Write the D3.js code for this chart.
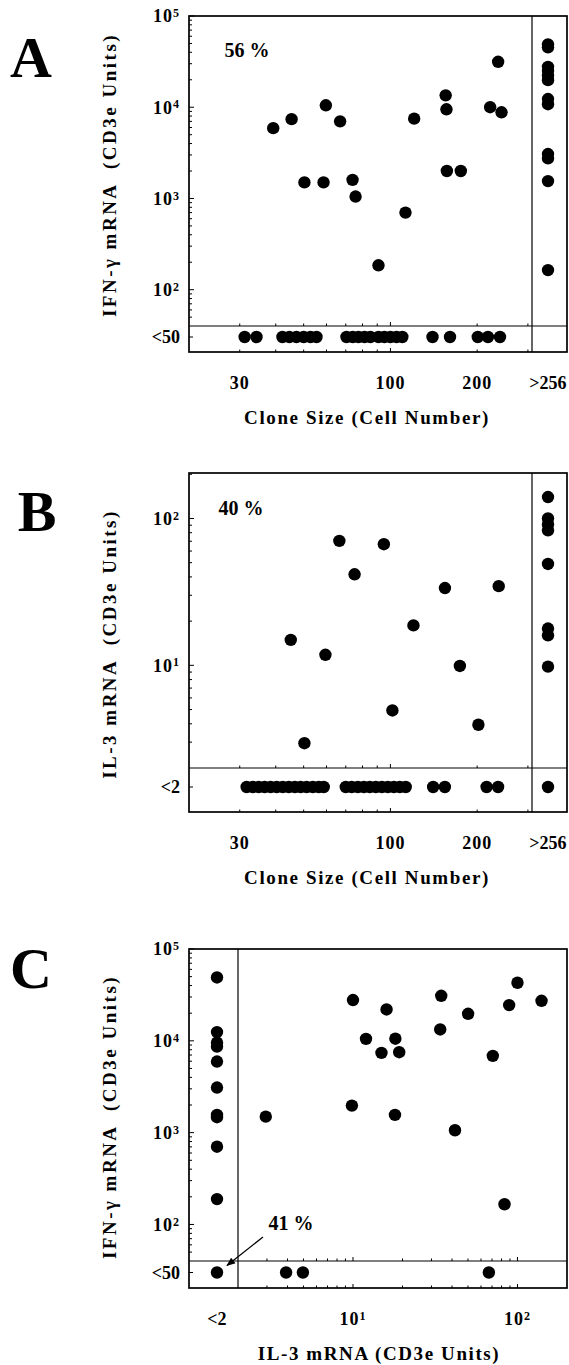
<!DOCTYPE html>
<html>
<head>
<meta charset="utf-8">
<script src="https://cdn.jsdelivr.net/npm/d3@7"></script>
<style>
body { margin: 0; background: #fff; }
text { font-family: "Liberation Serif", "Times New Roman", serif; font-weight: bold; fill: #000; }
</style>
</head>
<body>
<script>
// ---- panel A : IFN-g mRNA vs clone size ----
var aClone = [39.2, 45.4, 59.7, 66.9, 50.3, 58.6, 73.9, 75.7, 120.9, 112.8, 90.9, 155.5, 156.5, 157, 175.5, 236.5, 221.9, 243];
var aIfn   = [5900, 7400, 10500, 7000, 1500, 1500, 1600, 1050, 7500, 700, 185, 13500, 9500, 2000, 2000, 31500, 10000, 8800];
// clones > 256 cells
var aBigIfn = [48900, 45300, 27700, 24900, 22100, 19800, 12300, 10800, 3070, 2750, 1550, 164];
// IFN-g < 50
var aNegClone = [31.2, 34.3, 42.2, 44.6, 47.2, 50, 52.8, 55.4, 70.4, 74, 77.5, 81.3, 85.2, 90.9, 95.3, 100, 105, 110, 140, 161, 201, 218, 240];

// ---- panel B : IL-3 mRNA vs clone size ----
var bClone = [66.5, 94.9, 75.1, 45.1, 59.5, 50.3, 154.6, 237.6, 120.2, 174.2, 101.6, 202];
var bIl3   = [70.4, 66.8, 41.7, 14.9, 11.8, 2.95, 33.6, 34.6, 18.7, 9.9, 4.93, 3.94];
var bBigIl3 = [140, 100, 91, 83, 49, 17.8, 16, 9.8, "<2"];
var bNegClone = [31.7, 33.3, 34.9, 36.6, 38.4, 40.3, 42.3, 44.4, 46.6, 48.8, 51.2, 53.8, 56.4, 58.7,
                 70, 73.4, 77.1, 80.9, 84.8, 89, 93.4, 98, 102.8, 107.8, 113, 140.7, 154.5, 215.7, 236.4];

// ---- panel C : IFN-g vs IL-3 ----
var cIl3 = [10, 16, 12, 18.1, 14.9, 19.1, 34.4, 33.9, 50.1, 100, 89, 140, 70.8, 9.85, 18, 2.95, 41.7, 83.4];
var cIfn = [27800, 21950, 10500, 10550, 7400, 7520, 30950, 13290, 19700, 42900, 24500, 27300, 6860, 1970, 1560, 1494, 1062, 166];
var cNegIl3Ifn = [49000, 12440, 9580, 8670, 5950, 3097, 1560, 1472, 703, 189, "<50"];
var cNegIfnIl3 = [3.92, 4.96, 67];

// tick labels
var cloneTicks = [30, 100, 200];
var ifnTicks = [1e2, 1e3, 1e4, 1e5];
var il3Ticks = [10, 100];

var svg = d3.select("body").append("svg")
  .attr("width", 569)
  .attr("height", 1365);

svg.append("defs").append("marker")
  .attr("id", "head")
  .attr("viewBox", "0 0 10 10")
  .attr("refX", 9).attr("refY", 5)
  .attr("markerWidth", 9).attr("markerHeight", 9)
  .attr("markerUnits", "userSpaceOnUse")
  .attr("orient", "auto")
  .append("path").attr("d", "M0,1L10,5L0,9Z").attr("fill", "#000");

// "10" with a raised exponent
function powLabel(sel, v) {
  sel.append("tspan").text("10");
  sel.append("tspan").attr("dy", "-0.45em").attr("font-size", "12px")
    .text(Math.round(Math.log10(v)));
}

function drawPanel(p) {
  var g = svg.append("g");
  var x = p.x, y = p.y;
  var xr = x.range();

  // frame + break lines
  g.append("rect")
    .attr("x", p.left).attr("y", p.top)
    .attr("width", p.right - p.left).attr("height", p.bottom - p.top)
    .attr("fill", "none").attr("stroke", "#000").attr("stroke-width", 1.7);
  g.append("line").attr("x1", p.left).attr("x2", p.right)
    .attr("y1", p.hsep).attr("y2", p.hsep)
    .attr("stroke", "#000").attr("stroke-width", 1.2);
  g.append("line").attr("x1", p.vsep).attr("x2", p.vsep)
    .attr("y1", p.top).attr("y2", p.bottom)
    .attr("stroke", "#000").attr("stroke-width", 1.2);

  // y ticks on the left edge
  var yt = y.ticks().filter(function (t) { return y(t) >= p.top && y(t) <= p.hsep - 1; });
  g.selectAll(null).data(yt).enter().append("line")
    .attr("x1", p.left)
    .attr("x2", function (t) { return p.left + (ifMajor(t) ? 5 : 3); })
    .attr("y1", function (t) { return y(t); })
    .attr("y2", function (t) { return y(t); })
    .attr("stroke", "#000").attr("stroke-width", 1);
  g.append("line").attr("x1", p.left).attr("x2", p.left + 4)
    .attr("y1", p.stripY).attr("y2", p.stripY)
    .attr("stroke", "#000").attr("stroke-width", 1);

  // x ticks on the bottom edge and on the break line
  var xt = x.ticks().filter(function (t) {
    return x(t) >= Math.min(xr[0], xr[1]) + 1 && x(t) <= Math.max(xr[0], xr[1]) - 1;
  });
  [p.bottom, p.hsep].forEach(function (base) {
    g.selectAll(null).data(xt).enter().append("line")
      .attr("x1", function (t) { return x(t); })
      .attr("x2", function (t) { return x(t); })
      .attr("y1", base)
      .attr("y2", function (t) { return base - (ifMajor(t) ? 4 : 2.5); })
      .attr("stroke", "#000").attr("stroke-width", 1);
  });

  // y tick labels
  p.yLabels.forEach(function (v) {
    var t = g.append("text")
      .attr("x", p.left - 9).attr("y", y(v)).attr("dy", "0.36em")
      .attr("text-anchor", "end").attr("font-size", "18px")
      .attr("letter-spacing", "1px");
    powLabel(t, v);
  });
  g.append("text")
    .attr("x", p.left - 9).attr("y", p.stripY).attr("dy", "0.36em")
    .attr("text-anchor", "end").attr("font-size", "18px")
    .text(p.stripLabel);

  // x tick labels
  var ly = p.bottom + 31;
  p.xLabels.forEach(function (v) {
    var t = g.append("text")
      .attr("x", x(v)).attr("y", ly).attr("dy", "0.36em")
      .attr("text-anchor", "middle").attr("font-size", "18px")
      .attr("letter-spacing", "1px");
    if (p.xPow) powLabel(t, v); else t.text(v);
  });
  g.append("text")
    .attr("x", p.colX).attr("y", ly).attr("dy", "0.36em")
    .attr("text-anchor", "middle").attr("font-size", "18px")
    .text(p.colLabel);

  // axis titles
  g.append("text")
    .attr("transform", "translate(" + p.yTitleX + "," + p.yTitleY + ") rotate(-90)")
    .attr("dy", "0.36em")
    .attr("text-anchor", "middle").attr("font-size", "19px")
    .attr("letter-spacing", "2.5px")
    .style("white-space", "pre")
    .text(p.yTitle);
  g.append("text")
    .attr("x", p.xTitleX).attr("y", p.bottom + 65).attr("dy", "0.36em")
    .attr("text-anchor", "middle").attr("font-size", "19px")
    .attr("letter-spacing", "1.6px")
    .text(p.xTitle);

  // panel letter + percentage
  g.append("text")
    .attr("x", p.letterX).attr("y", p.letterY)
    .attr("text-anchor", "middle").attr("font-size", "58px")
    .text(p.letter);
  if (p.pct) {
    g.append("text")
      .attr("x", p.pctX).attr("y", p.pctY).attr("dy", "0.36em")
      .attr("text-anchor", "middle").attr("font-size", "20px")
      .text(p.pct);
  }

  // dots
  g.selectAll("circle").data(p.points).enter().append("circle")
    .attr("cx", function (d) { return typeof d[0] === "string" ? p.colX : x(d[0]); })
    .attr("cy", function (d) { return typeof d[1] === "string" ? p.stripY : y(d[1]); })
    .attr("r", 6.2)
    .style("fill", "#000");

  return g;

  function ifMajor(t) {
    var e = Math.log10(t);
    return Math.abs(e - Math.round(e)) < 1e-9;
  }
}

// panel A
var axA = d3.scaleLog().domain([20, 310]).range([189, 532]);
var ayA = d3.scaleLog().domain([40, 1e5]).range([326, 16]);
var ptsA = d3.zip(aClone, aIfn)
  .concat(aBigIfn.map(function (v) { return [">256", v]; }))
  .concat(aNegClone.map(function (v) { return [v, "<50"]; }));
drawPanel({
  x: axA, y: ayA, left: 189, right: 567, top: 16, bottom: 352, hsep: 326, vsep: 532,
  colX: 548, stripY: 337, points: ptsA,
  yLabels: ifnTicks, stripLabel: "<50",
  xLabels: cloneTicks, xPow: false, colLabel: ">256",
  yTitle: "IFN-\u03b3 mRNA  (CD3e Units)", yTitleX: 109, yTitleY: 175,
  xTitle: "Clone Size (Cell Number)", xTitleX: 367,
  letter: "A", letterX: 31, letterY: 77,
  pct: "56 %", pctX: 247, pctY: 50
});

// panel B
var axB = d3.scaleLog().domain([20, 310]).range([189, 532]);
var ayB = d3.scaleLog().domain([2, 204]).range([768, 473]);
var ptsB = d3.zip(bClone, bIl3)
  .concat(bBigIl3.map(function (v) { return [">256", v]; }))
  .concat(bNegClone.map(function (v) { return [v, "<2"]; }));
drawPanel({
  x: axB, y: ayB, left: 189, right: 567, top: 473, bottom: 812, hsep: 768, vsep: 532,
  colX: 548, stripY: 787, points: ptsB,
  yLabels: [10, 100], stripLabel: "<2",
  xLabels: cloneTicks, xPow: false, colLabel: ">256",
  yTitle: "IL-3 mRNA  (CD3e Units)", yTitleX: 109, yTitleY: 644,
  xTitle: "Clone Size (Cell Number)", xTitleX: 367,
  letter: "B", letterX: 37, letterY: 531,
  pct: "40 %", pctX: 241, pctY: 508
});

// panel C
var axC = d3.scaleLog().domain([2, 200]).range([238, 567]);
var ayC = d3.scaleLog().domain([40, 1e5]).range([1261, 949]);
var ptsC = d3.zip(cIl3, cIfn)
  .concat(cNegIl3Ifn.map(function (v) { return ["<2", v]; }))
  .concat(cNegIfnIl3.map(function (v) { return [v, "<50"]; }));
var gC = drawPanel({
  x: axC, y: ayC, left: 189, right: 567, top: 949, bottom: 1288, hsep: 1261, vsep: 238,
  colX: 217, stripY: 1272.5, points: ptsC,
  yLabels: ifnTicks, stripLabel: "<50",
  xLabels: il3Ticks, xPow: true, colLabel: "<2",
  yTitle: "IFN-\u03b3 mRNA  (CD3e Units)", yTitleX: 109, yTitleY: 1117,
  xTitle: "IL-3 mRNA (CD3e Units)", xTitleX: 379,
  letter: "C", letterX: 31, letterY: 988,
  pct: null
});

// 41 % callout pointing at the double-negative corner
gC.append("text")
  .attr("x", 291).attr("y", 1223).attr("dy", "0.36em")
  .attr("text-anchor", "middle").attr("font-size", "20px")
  .text("41 %");
gC.append("line")
  .attr("x1", 263).attr("y1", 1237)
  .attr("x2", 227).attr("y2", 1265.5)
  .attr("stroke", "#000").attr("stroke-width", 1.3)
  .attr("marker-end", "url(#head)");
</script>
</body>
</html>
